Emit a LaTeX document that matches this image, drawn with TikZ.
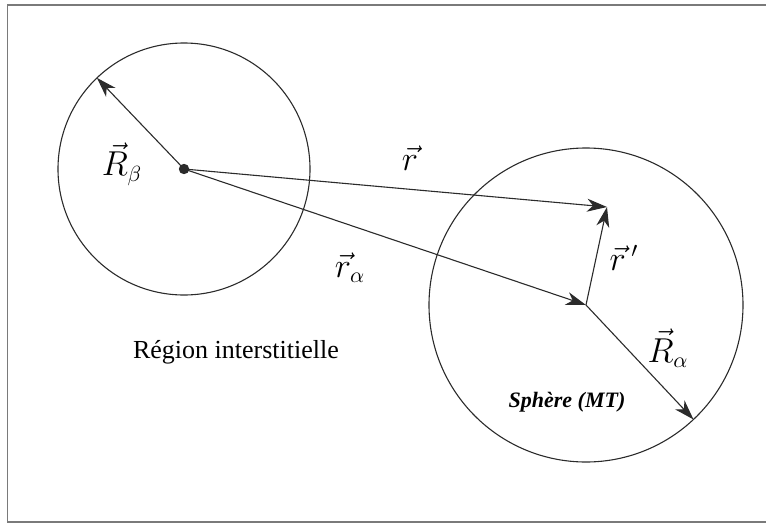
\documentclass[tikz,border=0pt]{standalone}
\usepackage{fontspec}
\setmainfont{Liberation Serif}
\usetikzlibrary{arrows.meta}
\definecolor{framegray}{HTML}{7A7A7A}
\definecolor{inkgray}{HTML}{2B2B2B}

\begin{document}
\begin{tikzpicture}[x=0.5pt,y=-0.5pt,
        vec/.style={draw=inkgray, line width=0.55pt,
            -{Stealth[length=10pt,width=6.5pt,inset=3pt]}},
        ball/.style={draw=inkgray, line width=0.55pt},
        lbl/.style={inner sep=0pt, font=\fontsize{16}{18}\selectfont}]
        \useasboundingbox (0,0) rectangle (766,525);
        \draw[framegray, line width=0.9pt] (770,5) -- (7.5,5) -- (7.5,522) -- (770,522);

        % the two spheres
        \coordinate (cb) at (184,169);
        \coordinate (ca) at (586,305);
        \coordinate (tip) at (607,207);
        \draw[ball] (cb) circle[radius=63pt];
        \draw[ball] (ca) circle[radius=78.5pt];

        % vectors
        \draw[vec] (cb) -- ++(133.7:63pt) coordinate (rbtip);
        \draw[vec] (cb) -- (tip);
        \draw[vec] (cb) -- (ca);
        \draw[vec] (ca) -- (tip);
        \draw[vec] (ca) -- ++(-46.8:78.5pt) coordinate (ratip);
        \fill[inkgray] (cb) circle[radius=2.6pt];

        \node[lbl] (lrb) at (122,164) {$\vec{R}_\beta$};
        \node[lbl] (lr) at (410,158) {$\vec{r}$};
        \node[lbl] (lra) at (350,268) {$\vec{r}_\alpha$};
        \node[lbl] (lrp) at (624,258) {$\vec{r}\,'$};
        \node[lbl] (lRa) at (668,348) {$\vec{R}_\alpha$};
        \node[inner sep=0pt, font=\fontsize{13}{15}\selectfont] (inter) at (236,352) {Région interstitielle};
        \node[inner sep=0pt, font=\fontsize{11}{13}\selectfont\bfseries\itshape] (mt) at (567,402) {Sphère (MT)};
    \end{tikzpicture}
\end{document}
